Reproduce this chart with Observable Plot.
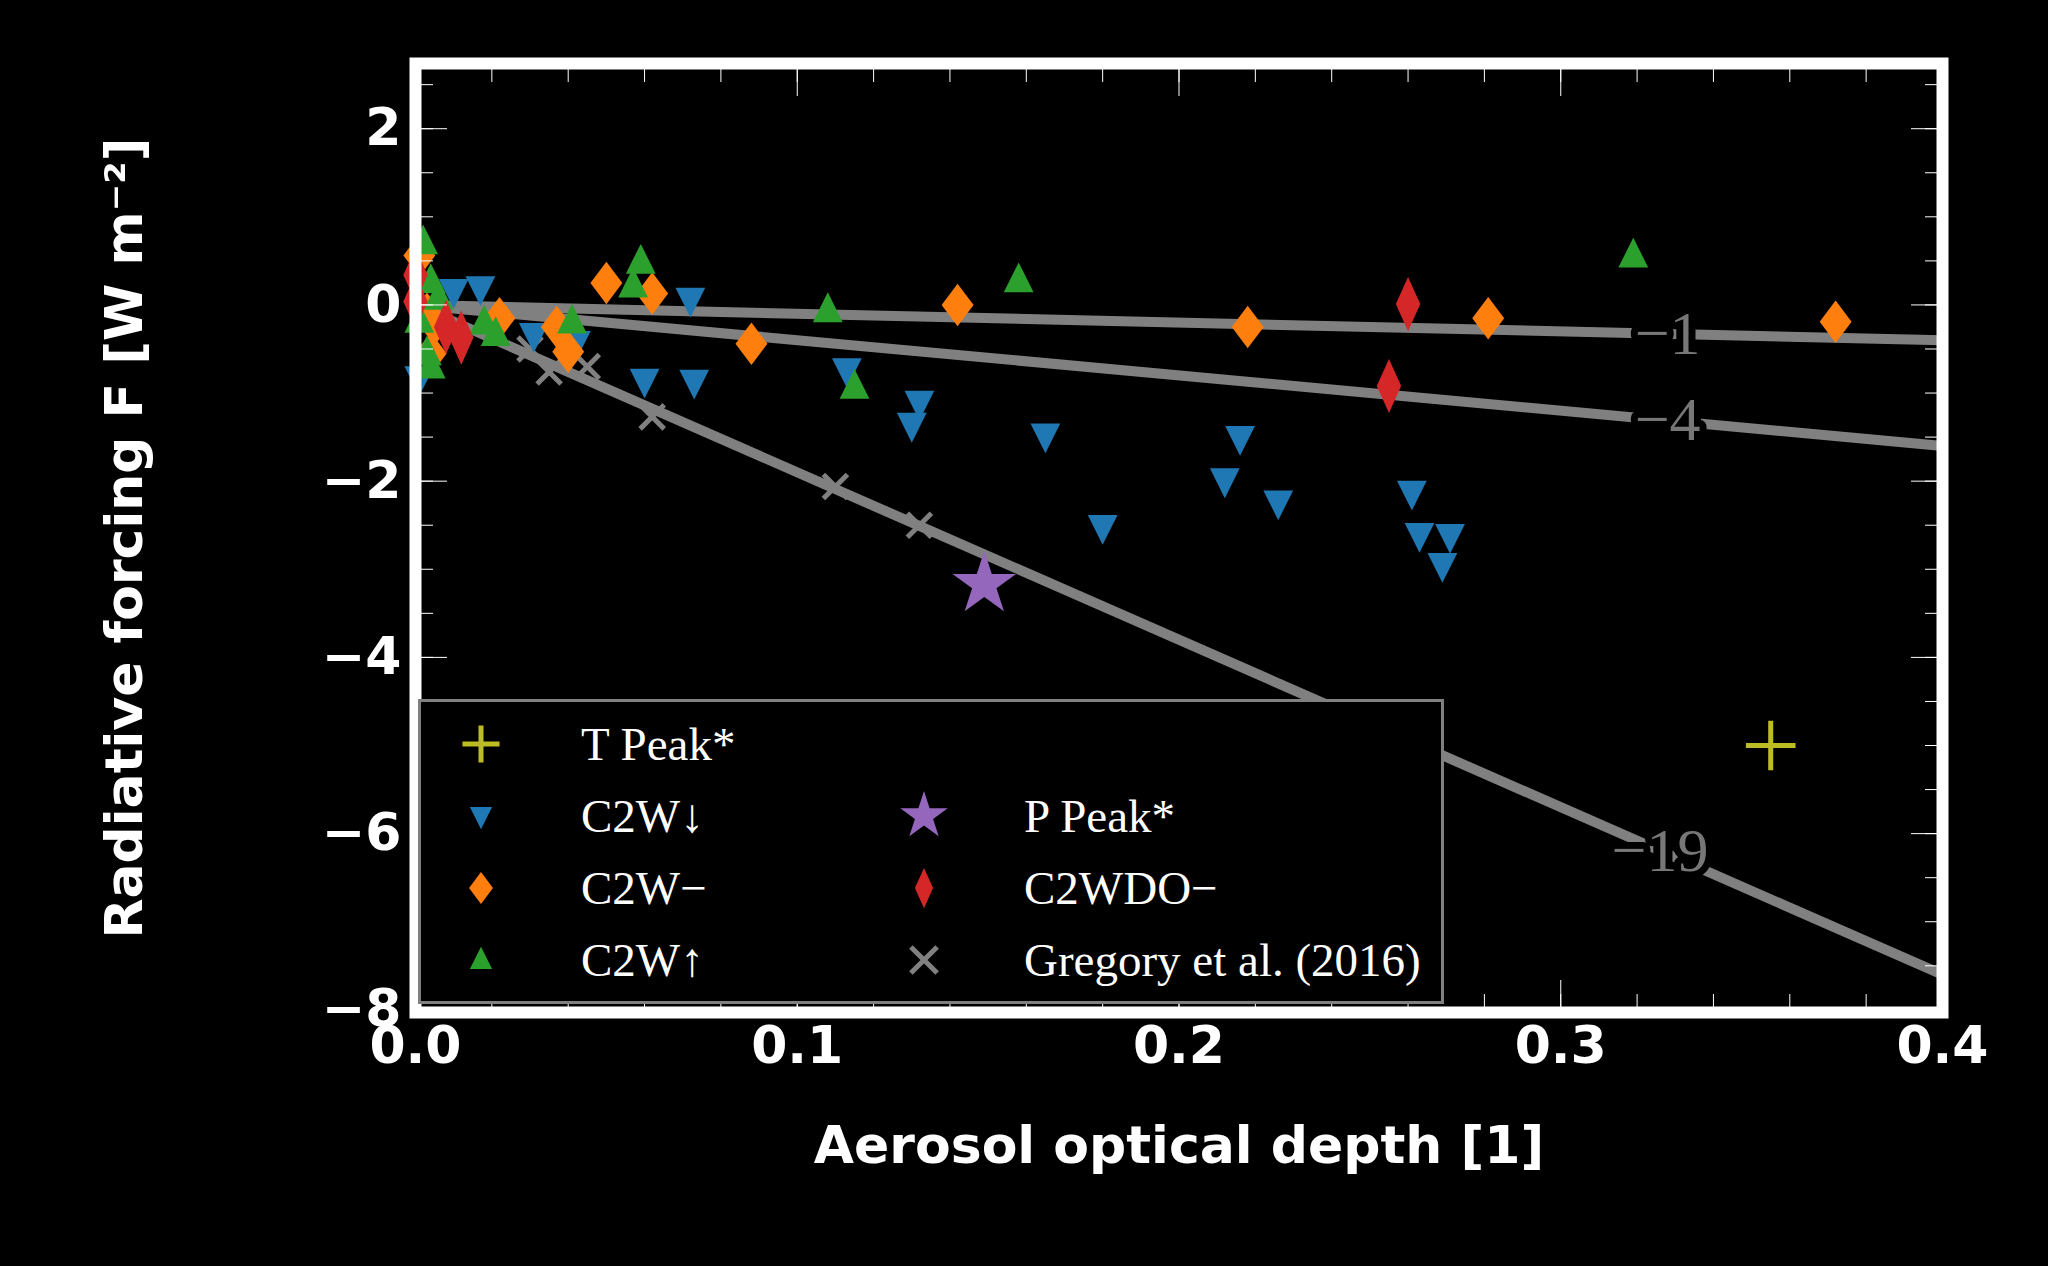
<!DOCTYPE html>
<html><head><meta charset="utf-8">
<script src="https://cdn.jsdelivr.net/npm/d3@7"></script>
<script src="https://cdn.jsdelivr.net/npm/@observablehq/plot@0.6"></script>
<style>
body{margin:0;background:#000;}
#wrap{position:relative;width:2048px;height:1266px;}
#legend{position:absolute;left:418px;top:699px;width:1026px;height:305px;border:3px solid #808080;background:#000;box-sizing:border-box;
 font-family:"Liberation Serif",serif;font-size:47px;color:#fff;}
.it{position:absolute;display:flex;align-items:center;height:60px;}
.it svg{width:60px;height:60px;margin-right:70px;}
</style></head>
<body><div id="wrap"><div id="chart"></div><div id="legend"></div></div>
<script>
var downX = [0.001,0.010,0.017,0.031,0.042,0.060,0.073,0.072,0.113,0.132,0.130,0.165,0.216,0.212,0.226,0.180,0.261,0.263,0.271,0.269];
var downY = [-0.83,0.16,0.19,-0.34,-0.43,-0.86,-0.87,0.06,-0.74,-1.11,-1.36,-1.48,-1.51,-1.99,-2.24,-2.52,-2.13,-2.61,-2.62,-2.95];
var flatX = [0.050,0.062,0.022,0.037,0.040,0.088,0.142,0.218,0.281,0.372,0.001,0.003,0.004,0.005];
var flatY = [0.25,0.13,-0.15,-0.25,-0.53,-0.44,0.0,-0.25,-0.15,-0.19,0.56,-0.10,-0.55,-0.22];
var upX = [0.002,0.004,0.006,0.001,0.003,0.004,0.018,0.021,0.041,0.059,0.057,0.108,0.115,0.158,0.319];
var upY = [0.71,0.27,0.08,-0.18,-0.55,-0.70,-0.20,-0.33,-0.19,0.49,0.22,-0.06,-0.93,0.28,0.56];
var doX = [0.000,0.000,0.008,0.012,0.260,0.255];
var doY = [0.34,0.04,-0.25,-0.37,0.01,-0.92];
var gregX = [0.030,0.035,0.045,0.062,0.110,0.132];
var gregY = [-0.50,-0.76,-0.70,-1.27,-2.06,-2.50];
var pPeak = [{x:0.149,y:-3.17}];
var tPeak = [{x:0.355,y:-5.0}];
var slopes = [-1,-4,-19];
var slopeLabelX = [0.328,0.328,0.326];

var C = {down:"#1f77b4",flat:"#ff7f0e",up:"#2ca02c",dowo:"#d62728",p:"#9467bd",t:"#bcbd22",g:"#808080"};
var zip = (X,Y) => X.map((x,i)=>({x,y:Y[i]}));
var thinDiamond = {draw(ctx,size){var r=Math.sqrt(size)*0.9; ctx.moveTo(0,-r); ctx.lineTo(r*0.45,0); ctx.lineTo(0,r); ctx.lineTo(-r*0.45,0); ctx.closePath();}};
var tallDiamond = {draw(ctx,size){var r=Math.sqrt(size)*0.75; ctx.moveTo(0,-r); ctx.lineTo(r*0.75,0); ctx.lineTo(0,r); ctx.lineTo(-r*0.75,0); ctx.closePath();}};
var downTri = {draw(ctx,size){var r=Math.sqrt(size)*0.7; ctx.moveTo(-r*0.75,-r*0.6); ctx.lineTo(r*0.75,-r*0.6); ctx.lineTo(0,r*0.9); ctx.closePath();}};
var upTri = {draw(ctx,size){var r=Math.sqrt(size)*0.7; ctx.moveTo(-r*0.75,r*0.6); ctx.lineTo(r*0.75,r*0.6); ctx.lineTo(0,-r*0.9); ctx.closePath();}};

var lines = slopes.flatMap(s => [{s,x:0,y:0},{s,x:0.4,y:s*0.4}]);
var labels = slopes.map((s,i)=>({s,x:slopeLabelX[i],y:s*slopeLabelX[i],t:"\u2212"+Math.abs(s)}));
var xMinor = d3.range(0,0.4001,0.02), yMinor = d3.range(-8,2.6,0.5);
var font = {fontSize:46,fontWeight:"bold",fontFamily:"DejaVu Sans"};
var minor = {tickSize:-18,tickWidth:8,stroke:"#fff",text:null,label:null};
var major = {tickSize:-32,tickWidth:9,stroke:"#fff"};

var chart = Plot.plot({
  width:2048,height:1266,
  marginLeft:415,marginRight:106,marginTop:63,marginBottom:254,
  style:{background:"#000",color:"#fff",fontFamily:"DejaVu Sans"},
  x:{domain:[0,0.4]},
  y:{domain:[-8.03,2.74]},
  marks:[
    Plot.line(lines,{x:"x",y:"y",z:"s",stroke:"#808080",strokeWidth:10}),
    Plot.text(labels,{x:"x",y:"y",text:"t",fill:"#777",stroke:"#000",strokeWidth:14,fontSize:62,fontFamily:"Liberation Serif"}),
    Plot.dot(zip(gregX,gregY),{x:"x",y:"y",symbol:"times",stroke:C.g,strokeWidth:5,r:11}),
    Plot.dot(zip(downX,downY),{x:"x",y:"y",symbol:downTri,fill:C.down,r:16}),
    Plot.dot(zip(flatX,flatY),{x:"x",y:"y",symbol:tallDiamond,fill:C.flat,r:16}),
    Plot.dot(zip(upX,upY),{x:"x",y:"y",symbol:upTri,fill:C.up,r:16}),
    Plot.dot(zip(doX,doY),{x:"x",y:"y",symbol:thinDiamond,fill:C.dowo,r:17}),
    Plot.dot(pPeak,{x:"x",y:"y",symbol:"star",fill:C.p,r:20}),
    Plot.dot(tPeak,{x:"x",y:"y",symbol:"plus",stroke:C.t,strokeWidth:5,r:16}),
    Plot.frame({stroke:"#fff",strokeWidth:12}),
    Plot.axisX(xMinor,{anchor:"bottom",...minor}),
    Plot.axisX(xMinor,{anchor:"top",...minor}),
    Plot.axisY(yMinor,{anchor:"left",...minor}),
    Plot.axisY(yMinor,{anchor:"right",...minor}),
    Plot.axisX({anchor:"bottom",ticks:[0,0.1,0.2,0.3,0.4],...major,tickPadding:46,tickFormat:d3.format(".1f"),...font,label:"Aerosol optical depth [1]",labelAnchor:"center",labelOffset:150,labelArrow:false}),
    Plot.axisX({anchor:"top",ticks:[0,0.1,0.2,0.3,0.4],...major,text:null,label:null}),
    Plot.axisY({anchor:"left",ticks:[2,0,-2,-4,-6,-8],...major,tickPadding:46,tickFormat:d=>d<0?"\u2212"+(-d):d,...font,label:"Radiative forcing F [W m\u207B\u00B2]",labelAnchor:"center",labelOffset:310,labelArrow:false}),
    Plot.axisY({anchor:"right",ticks:[2,0,-2,-4,-6,-8],...major,text:null,label:null})
  ]
});
d3.select("#chart").append(()=>chart);
d3.select(chart).selectAll("[aria-label$='label'] text").style("font-size","52px").style("font-weight","bold");

var items = [
  {t:"T Peak*",sym:"plus",c:C.t,stroke:true,col:0,row:0},
  {t:"C2W\u2193",sym:downTri,c:C.down,col:0,row:1},
  {t:"C2W\u2212",sym:tallDiamond,c:C.flat,col:0,row:2},
  {t:"C2W\u2191",sym:upTri,c:C.up,col:0,row:3},
  {t:"P Peak*",sym:"star",c:C.p,col:1,row:1},
  {t:"C2WDO\u2212",sym:thinDiamond,c:C.dowo,col:1,row:2},
  {t:"Gregory et al. (2016)",sym:"times",c:C.g,stroke:true,col:1,row:3}
];
var symMap = {plus:d3.symbolPlus,star:d3.symbolStar,times:d3.symbolTimes};
var lg = d3.select("#legend");
items.forEach(it=>{
  var d = lg.append("div").attr("class","it").style("left",(30+it.col*443)+"px").style("top",(12+it.row*72)+"px");
  var s = d.append("svg").attr("viewBox","-30 -30 60 60");
  var type = typeof it.sym==="string"?symMap[it.sym]:it.sym;
  var path = d3.symbol(type, it.sym===thinDiamond?500:it.sym==="star"?700:450)();
  var p = s.append("path").attr("d",path);
  if(it.stroke) p.attr("fill","none").attr("stroke",it.c).attr("stroke-width",5);
  else p.attr("fill",it.c);
  d.append("span").text(it.t);
});
</script></body></html>
